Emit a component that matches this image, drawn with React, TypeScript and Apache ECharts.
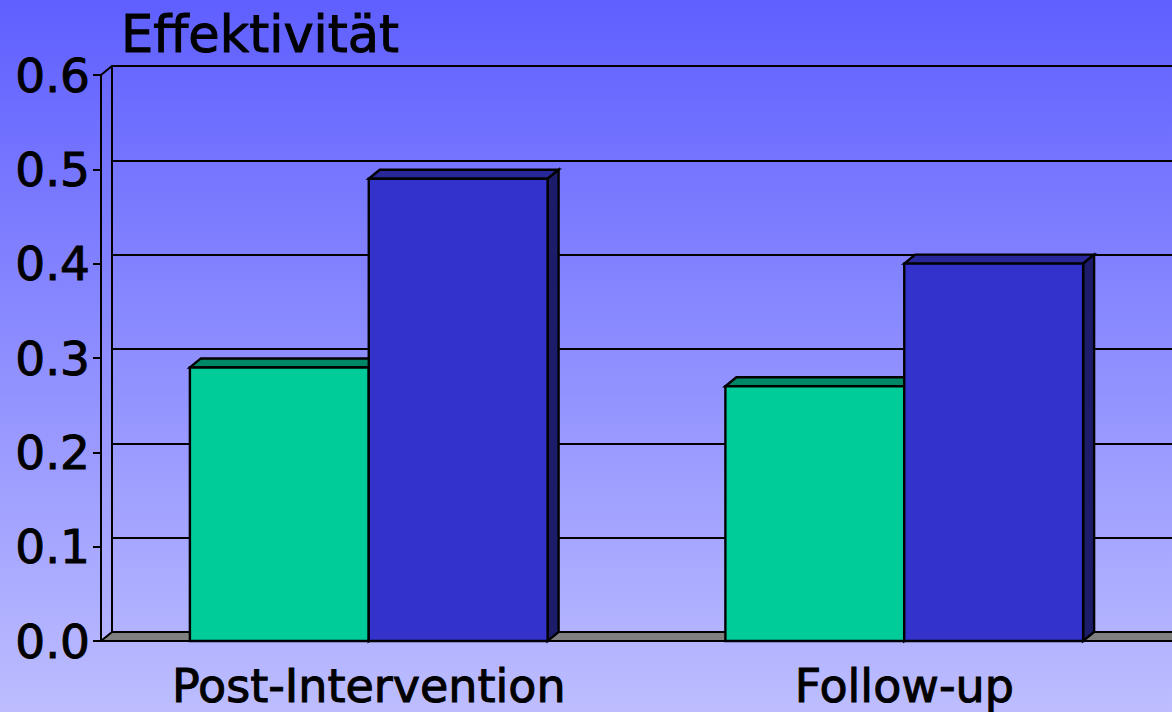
import React, { useEffect, useRef } from "react";
import * as echarts from "echarts";

const categories = ["Post-Intervention", "Follow-up"];
const seriesGreen = [0.29, 0.27];
const seriesBlue = [0.49, 0.4];
const yMin = 0;
const yMax = 0.6;
const yInterval = 0.1;
const titleText = "Effektivität";

const FONT = "DejaVu Sans";
const DX = 11;
const DY = -9;

const G = { left: 101, top: 75, width: 1077, height: 566 };

const heavy = { textBorderColor: "#000", textBorderWidth: 1 };

function makeRender(side: number, front: string, topC: string, sideC: string) {
  return (params: any, api: any) => {
    const cat = api.value(0);
    const val = api.value(1);
    const top = api.coord([cat, val]);
    const base = api.coord([cat, 0]);
    const cw = api.size([1, 0])[0];
    const bw = cw * 0.334;
    const x0 = side === 0 ? top[0] - bw : top[0];
    const x1 = x0 + bw;
    const yT = top[1];
    const yB = base[1];
    const st = { stroke: "#000", lineWidth: 2.4, lineJoin: "miter" };
    return {
      type: "group",
      children: [
        {
          type: "polygon",
          shape: { points: [[x0, yT], [x0 + DX, yT + DY], [x1 + DX, yT + DY], [x1, yT]] },
          style: { fill: topC, ...st },
        },
        {
          type: "polygon",
          shape: { points: [[x1, yT], [x1 + DX, yT + DY], [x1 + DX, yB + DY], [x1, yB]] },
          style: { fill: sideC, ...st },
        },
        {
          type: "rect",
          shape: { x: x0, y: yT, width: bw, height: yB - yT },
          style: { fill: front, ...st },
        },
      ],
    };
  };
}

export default function App() {
  const ref = useRef<HTMLDivElement>(null);
  useEffect(() => {
    if (!ref.current) return;
    const chart = echarts.init(ref.current, undefined, { renderer: "svg" });
    const yB = G.top + G.height;
    chart.setOption({
      animation: false,
      backgroundColor: {
        type: "linear",
        x: 0, y: 0, x2: 0, y2: 1,
        colorStops: [
          { offset: 0, color: "#5f5fff" },
          { offset: 1, color: "#bdbdff" },
        ],
      },
      title: {
        text: titleText,
        left: 116,
        top: 4,
        textStyle: { fontFamily: FONT, fontSize: 51, fontWeight: "normal", color: "#000", ...heavy },
      },
      grid: [
        { left: G.left, top: G.top, width: G.width, height: G.height },
        { left: G.left + DX, top: G.top + DY, width: G.width, height: G.height },
      ],
      xAxis: [
        {
          type: "category",
          gridIndex: 0,
          data: categories,
          axisLine: { show: true, lineStyle: { color: "#000", width: 2 } },
          axisTick: { show: false },
          axisLabel: { fontFamily: FONT, fontSize: 46, color: "#000", margin: 22, ...heavy },
          z: 6,
        },
        {
          type: "category",
          gridIndex: 1,
          data: categories,
          show: false,
        },
      ],
      yAxis: [
        {
          type: "value",
          gridIndex: 0,
          min: yMin,
          max: yMax,
          interval: yInterval,
          axisLine: { show: true, lineStyle: { color: "#000", width: 2 } },
          axisTick: { show: true, length: 8, lineStyle: { color: "#000", width: 2 } },
          splitLine: { show: false },
          axisLabel: {
            fontFamily: FONT,
            fontSize: 47,
            color: "#000",
            margin: 11,
            formatter: (v: number) => v.toFixed(1),
            ...heavy,
          },
        },
        {
          type: "value",
          gridIndex: 1,
          min: yMin,
          max: yMax,
          interval: yInterval,
          axisLine: { show: true, lineStyle: { color: "#000", width: 2 } },
          axisTick: { show: false },
          axisLabel: { show: false },
          splitLine: { show: true, lineStyle: { color: "#000", width: 2 } },
        },
      ],
      graphic: [
        {
          type: "polygon",
          z: 1,
          shape: {
            points: [
              [G.left, yB],
              [G.left + DX, yB + DY],
              [G.left + G.width + DX + 20, yB + DY],
              [G.left + G.width + 20, yB],
            ],
          },
          style: { fill: "#808080", stroke: "#000", lineWidth: 2 },
        },
        {
          type: "line",
          z: 1,
          shape: { x1: G.left, y1: G.top, x2: G.left + DX, y2: G.top + DY },
          style: { stroke: "#000", lineWidth: 2 },
        },
      ],
      series: [
        {
          type: "custom",
          xAxisIndex: 0,
          yAxisIndex: 0,
          z: 5,
          renderItem: makeRender(0, "#00cc99", "#008866", "#006b50"),
          data: seriesGreen.map((v, i) => [i, v]),
          encode: { x: 0, y: 1 },
        },
        {
          type: "custom",
          xAxisIndex: 0,
          yAxisIndex: 0,
          z: 5,
          renderItem: makeRender(1, "#3333cc", "#28289a", "#1c1c6b"),
          data: seriesBlue.map((v, i) => [i, v]),
          encode: { x: 0, y: 1 },
        },
      ],
    });
    return () => chart.dispose();
  }, []);
  return (
    <div
      ref={ref}
      style={{ position: "fixed", left: 0, top: 0, width: 1172, height: 712 }}
    />
  );
}
